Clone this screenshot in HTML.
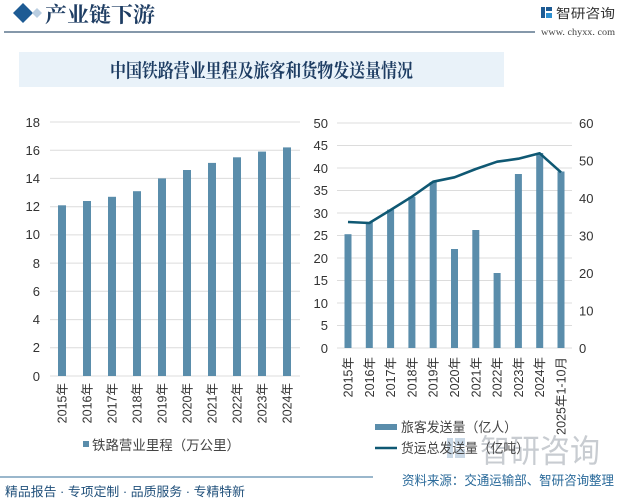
<!DOCTYPE html>
<html><head><meta charset="utf-8"><style>
html,body{margin:0;padding:0;background:#fff;}
svg{display:block;}
text{font-family:"Liberation Sans","Noto Sans CJK SC",sans-serif;}
.ser{font-family:"Liberation Serif","Noto Serif CJK SC",serif;}
.ax{font-size:13px;fill:#333;}
.xl{font-size:12.5px;fill:#333;}
</style></head><body>
<svg width="618" height="500" viewBox="0 0 618 500" xmlns="http://www.w3.org/2000/svg">
<rect width="618" height="500" fill="#fff"/>
<!-- header -->
<polygon points="23,3 33,13 23,23 13,13" fill="#1d5b94"/>
<polygon points="37,8 42,13 37,18 32,13" fill="#b9cde0"/>
<text x="45" y="22" class="ser" font-size="21" fill="#1e3d63" font-weight="bold" textLength="110" lengthAdjust="spacingAndGlyphs">产业链下游</text>
<line x1="4" y1="32" x2="535" y2="32" stroke="#3c5a78" stroke-width="1.2"/>
<rect x="541" y="7" width="4" height="11" fill="#1d5b94"/>
<rect x="546" y="7" width="6" height="4" fill="#1d5b94"/>
<rect x="546" y="13" width="6" height="5" fill="#2c8fd0"/>
<text x="556" y="18" font-size="13" fill="#333" textLength="59" lengthAdjust="spacingAndGlyphs">智研咨询</text>
<text x="541" y="35" class="ser" font-size="9.5" fill="#444" textLength="74" lengthAdjust="spacingAndGlyphs">www. chyxx. com</text>
<!-- title band -->
<rect x="19" y="52" width="485" height="35" fill="#e9f2f9"/>
<text x="110" y="77" class="ser" font-size="19" font-weight="bold" fill="#1e3d63" textLength="303" lengthAdjust="spacingAndGlyphs">中国铁路营业里程及旅客和货物发送量情况</text>

<!-- left chart -->
<g stroke="#dcdcdc" stroke-width="1">
<line x1="50" y1="122" x2="300" y2="122"/><line x1="50" y1="150.2" x2="300" y2="150.2"/>
<line x1="50" y1="178.4" x2="300" y2="178.4"/><line x1="50" y1="206.7" x2="300" y2="206.7"/>
<line x1="50" y1="234.9" x2="300" y2="234.9"/><line x1="50" y1="263.1" x2="300" y2="263.1"/>
<line x1="50" y1="291.3" x2="300" y2="291.3"/><line x1="50" y1="319.6" x2="300" y2="319.6"/>
<line x1="50" y1="347.8" x2="300" y2="347.8"/><line x1="50" y1="376" x2="300" y2="376"/>
</g>
<g class="ax" text-anchor="end">
<text x="40" y="127">18</text><text x="40" y="155">16</text><text x="40" y="183">14</text>
<text x="40" y="211">12</text><text x="40" y="239">10</text><text x="40" y="268">8</text>
<text x="40" y="296">6</text><text x="40" y="324">4</text><text x="40" y="352">2</text>
<text x="40" y="381">0</text>
</g>
<g fill="#5a8dab">
<rect x="58" y="205.3" width="8" height="170.7"/>
<rect x="83" y="201" width="8" height="175"/>
<rect x="108" y="196.8" width="8" height="179.2"/>
<rect x="133" y="191.2" width="8" height="184.8"/>
<rect x="158" y="178.4" width="8" height="197.6"/>
<rect x="183" y="170" width="8" height="206"/>
<rect x="208" y="162.9" width="8" height="213.1"/>
<rect x="233" y="157.3" width="8" height="218.7"/>
<rect x="258" y="151.6" width="8" height="224.4"/>
<rect x="283" y="147.4" width="8" height="228.6"/>
</g>
<g class="xl" text-anchor="end">
<text transform="translate(66.5,383) rotate(-90)">2015年</text>
<text transform="translate(91.5,383) rotate(-90)">2016年</text>
<text transform="translate(116.5,383) rotate(-90)">2017年</text>
<text transform="translate(141.5,383) rotate(-90)">2018年</text>
<text transform="translate(166.5,383) rotate(-90)">2019年</text>
<text transform="translate(191.5,383) rotate(-90)">2020年</text>
<text transform="translate(216.5,383) rotate(-90)">2021年</text>
<text transform="translate(241.5,383) rotate(-90)">2022年</text>
<text transform="translate(266.5,383) rotate(-90)">2023年</text>
<text transform="translate(291.5,383) rotate(-90)">2024年</text>
</g>
<rect x="83" y="441" width="6" height="6" fill="#5a8dab"/>
<text x="92" y="450" font-size="13.5" fill="#444" textLength="148" lengthAdjust="spacingAndGlyphs">铁路营业里程（万公里）</text>

<!-- right chart -->
<g stroke="#dcdcdc" stroke-width="1">
<line x1="337" y1="123" x2="572" y2="123"/><line x1="337" y1="145.5" x2="572" y2="145.5"/>
<line x1="337" y1="168" x2="572" y2="168"/><line x1="337" y1="190.5" x2="572" y2="190.5"/>
<line x1="337" y1="213" x2="572" y2="213"/><line x1="337" y1="235.5" x2="572" y2="235.5"/>
<line x1="337" y1="258" x2="572" y2="258"/><line x1="337" y1="280.5" x2="572" y2="280.5"/>
<line x1="337" y1="303" x2="572" y2="303"/><line x1="337" y1="325.5" x2="572" y2="325.5"/>
<line x1="337" y1="348" x2="572" y2="348"/>
</g>
<g class="ax" text-anchor="end">
<text x="328" y="128">50</text><text x="328" y="150">45</text><text x="328" y="173">40</text>
<text x="328" y="195">35</text><text x="328" y="218">30</text><text x="328" y="240">25</text>
<text x="328" y="263">20</text><text x="328" y="285">15</text><text x="328" y="308">10</text>
<text x="328" y="330">5</text><text x="328" y="353">0</text>
</g>
<g class="ax">
<text x="579" y="128">60</text><text x="579" y="165.5">50</text><text x="579" y="203">40</text>
<text x="579" y="240.5">30</text><text x="579" y="278">20</text><text x="579" y="315.5">10</text>
<text x="579" y="353">0</text>
</g>
<g fill="#5a8dab">
<rect x="344.5" y="234.2" width="7" height="113.8"/>
<rect x="365.8" y="222.5" width="7" height="125.5"/>
<rect x="387.1" y="209.6" width="7" height="138.4"/>
<rect x="408.4" y="196.8" width="7" height="151.2"/>
<rect x="429.7" y="182" width="7" height="166"/>
<rect x="451" y="249" width="7" height="99"/>
<rect x="472.3" y="230" width="7" height="118"/>
<rect x="493.6" y="273" width="7" height="75"/>
<rect x="514.9" y="174" width="7" height="174"/>
<rect x="536.2" y="153" width="7" height="195"/>
<rect x="557.5" y="171.5" width="7" height="176.5"/>
</g>
<polyline fill="none" stroke="#0f5873" stroke-width="2.6" stroke-linejoin="round"
points="348,222 369.3,223 390.6,210 411.9,196.7 433.2,181.7 454.5,177.3 475.8,169 497.1,161.7 518.4,158.7 539.7,153.3 561,172.3"/>
<g class="xl" text-anchor="end">
<text transform="translate(352.5,357) rotate(-90)">2015年</text>
<text transform="translate(373.8,357) rotate(-90)">2016年</text>
<text transform="translate(395.1,357) rotate(-90)">2017年</text>
<text transform="translate(416.4,357) rotate(-90)">2018年</text>
<text transform="translate(437.7,357) rotate(-90)">2019年</text>
<text transform="translate(459,357) rotate(-90)">2020年</text>
<text transform="translate(480.3,357) rotate(-90)">2021年</text>
<text transform="translate(501.6,357) rotate(-90)">2022年</text>
<text transform="translate(522.9,357) rotate(-90)">2023年</text>
<text transform="translate(544.2,357) rotate(-90)">2024年</text>
<text transform="translate(565.5,357) rotate(-90)">2025年1-10月</text>
</g>
<!-- watermark -->
<rect x="447" y="438" width="6" height="20" fill="#c9d8e6"/>
<rect x="455" y="438" width="10" height="8" fill="#c9d8e6"/>
<rect x="455" y="449" width="10" height="9" fill="#c9d8e6"/>
<text x="480" y="462" font-size="32" fill="#c8ccd1" textLength="120" lengthAdjust="spacingAndGlyphs">智研咨询</text>
<!-- right legend -->
<rect x="375" y="424" width="22" height="6" fill="#5a8dab"/>
<text x="401" y="432" font-size="13.5" fill="#444" textLength="116" lengthAdjust="spacingAndGlyphs">旅客发送量（亿人）</text>
<line x1="375" y1="448" x2="397" y2="448" stroke="#0f5873" stroke-width="2.5"/>
<text x="401" y="453" font-size="13.5" fill="#444" textLength="128" lengthAdjust="spacingAndGlyphs">货运总发送量（亿吨）</text>
<!-- footer -->
<line x1="0" y1="477" x2="373" y2="477" stroke="#5d8cae" stroke-width="1.2"/>
<text x="5" y="496" font-size="12.5" fill="#1f4f7a" textLength="240" lengthAdjust="spacingAndGlyphs">精品报告 · 专项定制 · 品质服务 · 专精特新</text>
<text x="402" y="485" font-size="13" fill="#2a6a9a" textLength="212" lengthAdjust="spacingAndGlyphs">资料来源：交通运输部、智研咨询整理</text>
</svg>
</body></html>
